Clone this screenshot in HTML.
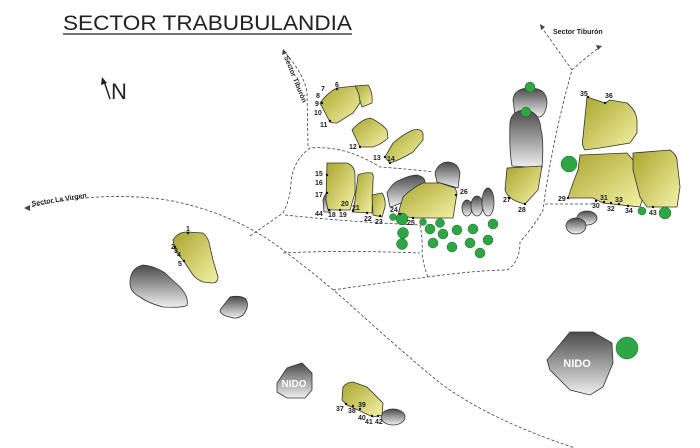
<!DOCTYPE html>
<html><head><meta charset="utf-8"><style>
html,body{margin:0;padding:0;background:#fff;}
svg{display:block;}
.n{font-family:"Liberation Sans",sans-serif;font-size:7px;font-weight:bold;fill:#222;}
.p{fill:none;stroke:#444;stroke-width:0.8;stroke-dasharray:3 2;}
.y{fill:url(#gy);stroke:#333;stroke-width:0.8;}
.g{fill:url(#gg);stroke:#333;stroke-width:0.8;}
.t{fill:#2ea646;stroke:#1a6a2a;stroke-width:0.5;}
</style></head><body>
<svg width="700" height="448" viewBox="0 0 700 448" xmlns="http://www.w3.org/2000/svg">
<defs>
<linearGradient id="gy" x1="0" y1="0" x2="1" y2="1"><stop offset="0" stop-color="#a9a52e"/><stop offset="1" stop-color="#f4f2a6"/></linearGradient>
<linearGradient id="gg" x1="0" y1="0" x2="0" y2="1"><stop offset="0" stop-color="#4a4a4a"/><stop offset="1" stop-color="#f0f0f0"/></linearGradient>
</defs>
<rect width="700" height="448" fill="#fff"/>
<text x="63" y="30" font-family="Liberation Sans,sans-serif" font-size="21" fill="#222" textLength="289" lengthAdjust="spacingAndGlyphs">SECTOR TRABUBULANDIA</text>
<line x1="63" y1="34" x2="352" y2="34" stroke="#222" stroke-width="1.2"/>
<line x1="110" y1="99" x2="104" y2="81" stroke="#222" stroke-width="1.5"/>
<polygon points="102,77 101,85 107,83" fill="#222"/>
<text x="111" y="99" font-family="Liberation Sans,sans-serif" font-size="22" fill="#222">N</text>

<!-- paths -->
<path class="p" d="M27,208 Q100,190 167,200 Q233,212 283,250 Q320,278 345,300 Q400,350 440,383 Q490,420 575,448"/>
<path class="p" d="M250,236 Q270,222 283,213 Q290,200 291,183 Q293,160 310,148 Q345,145 380,167 Q420,170 433,172"/>
<path class="p" d="M283,50 Q305,75 307,93 L308,147"/>
<path class="p" d="M285,215 Q350,222 420,225 Q423,240 422,253 Q424,268 428,277"/>
<path class="p" d="M283,253 Q340,250 420,253"/>
<path class="p" d="M333,290 Q380,283 427,277 Q480,270 507,270 Q520,262 520,242 Q535,225 543,210 L545,195 Q555,130 572,70 L540,25"/>
<path class="p" d="M572,70 Q585,58 600,47"/>
<path class="p" d="M545,204 L593,204"/>
<polygon points="24,208 30,205 30,211" fill="#444"/>
<polygon points="540,24 545,27 541,30" fill="#444"/>
<polygon points="602,46 596,45 598,50" fill="#444"/>
<polygon points="283,49 282,55 287,53" fill="#444"/>
<text class="n" font-size="6" transform="translate(32,206) rotate(-9)">Sector La Virgen</text>
<text class="n" font-size="6" x="553" y="34">Sector Tiburón</text>
<text class="n" font-size="6" transform="translate(284,57) rotate(68)">Sector Tiburón</text>

<!-- left rocks -->
<path class="y" d="M173,240 Q178,232 187,232 L203,233 Q209,238 210,247 L213,260 L218,277 Q218,283 212,283 L203,282 Q196,279 193,275 L185,263 L175,250 Z"/>
<path class="g" d="M130,283 Q130,268 143,265 Q155,266 165,273 L180,287 Q189,297 187,305 Q185,308 163,307 Q148,303 140,297 Q130,292 130,283 Z"/>
<path class="g" d="M220,310 L230,297 Q240,295 246,299 Q250,307 243,315 Q236,320 230,317 Q220,315 220,310 Z"/>

<!-- top cluster -->
<path class="y" d="M355,86 L368,85 Q373,92 372,103 L362,107 Z"/>
<path class="y" d="M320,103 Q328,92 337,88 L355,86 Q360,94 360,103 L353,113 L337,123 Q331,123 330,122 Z"/>
<path class="y" d="M352,130 Q360,120 370,118 Q380,122 387,130 L388,138 Q382,144 373,147 L360,147 Z"/>
<path class="y" d="M385,157 L393,143 Q405,133 413,130 Q422,128 423,134 L423,140 L413,152 Q400,160 390,163 Z"/>
<path class="g" d="M323,200 Q326,190 330,195 L330,212 L324,212 Z"/>
<path class="y" d="M327,163 L347,163 Q355,166 355,175 L355,193 L350,210 L328,210 L326,200 Z"/>
<path class="y" d="M358,175 Q364,172 372,173 Q374,176 373,180 L372,213 L353,212 L355,200 Z"/>
<path class="y" d="M372,195 L382,193 Q386,199 385,207 L382,217 L373,215 Z"/>
<path class="g" d="M387,193 Q392,183 400,180 Q410,175 417,175 Q425,177 425,182 L422,190 L403,202 Q395,206 390,207 Z"/>
<path class="g" d="M435,173 Q438,163 447,162 Q458,162 460,173 L458,188 L437,182 Z"/>
<path class="y" d="M400,207 L403,197 Q412,188 423,183 L440,183 L455,188 L457,193 L453,218 L413,218 L398,215 Z"/>
<ellipse class="g" cx="467" cy="208" rx="5" ry="8"/>
<ellipse class="g" cx="477" cy="206" rx="6" ry="10"/>
<ellipse class="g" cx="488" cy="202" rx="6" ry="14"/>

<!-- column -->
<path class="g" d="M513,100 Q514,88 530,88 Q547,88 547,103 Q546,114 540,117 L515,115 Z"/>
<path class="g" d="M510,122 Q512,110 526,110 Q540,112 541,130 Q544,140 542,168 L512,166 Q509,150 510,122 Z"/>
<path class="y" d="M507,168 L542,166 L538,190 L525,204 Q508,200 505,190 Z"/>

<!-- right rocks -->
<path class="y" d="M587,97 L605,103 L610,100 L627,103 Q636,110 637,120 L637,133 L630,143 L600,148 L585,150 Q581,145 583,137 Z"/>
<path class="y" d="M580,155 L627,153 L633,160 L643,197 L640,207 L603,203 L593,198 L568,198 Q572,185 578,170 Z"/>
<path class="y" d="M633,153 L670,150 Q677,155 677,160 L680,187 L677,207 L647,207 L640,197 L633,170 Z"/>
<ellipse class="g" cx="587" cy="218" rx="10" ry="7"/>
<ellipse class="g" cx="576" cy="226" rx="10" ry="8"/>

<!-- nidos -->
<path class="g" d="M547,360 L570,332 L593,332 L612,343 L613,363 L603,387 L590,395 L570,390 L550,370 Z"/>
<text x="577" y="367" text-anchor="middle" font-family="Liberation Sans,sans-serif" font-weight="bold" font-size="11" fill="#fff">NIDO</text>
<path class="g" d="M277,383 L287,368 L302,363 L312,373 L312,390 L305,398 L287,398 L277,392 Z"/>
<text x="294" y="387" text-anchor="middle" font-family="Liberation Sans,sans-serif" font-weight="bold" font-size="10" fill="#fff">NIDO</text>
<ellipse class="g" cx="393" cy="417" rx="12" ry="8"/>
<path class="y" d="M342,400 L343,387 Q347,382 353,382 L367,387 L383,403 L382,415 L373,417 L358,410 L347,405 Z"/>

<!-- trees -->
<g class="t">
<circle cx="530" cy="87" r="5"/><circle cx="526" cy="112" r="5"/>
<circle cx="569" cy="164" r="8"/><circle cx="665" cy="213" r="6"/><circle cx="642" cy="211" r="4"/>
<circle cx="627" cy="348" r="11"/>
<circle cx="402" cy="219" r="6"/><circle cx="403" cy="233" r="5.5"/><circle cx="402" cy="244" r="5.5"/>
<circle cx="393" cy="217" r="3.5"/><circle cx="423" cy="222" r="3.5"/><circle cx="430" cy="229" r="5"/>
<circle cx="440" cy="223" r="4.5"/><circle cx="443" cy="234" r="5"/><circle cx="457" cy="230" r="5"/>
<circle cx="473" cy="229" r="5"/><circle cx="493" cy="224" r="5"/><circle cx="488" cy="240" r="5"/>
<circle cx="470" cy="243" r="5"/><circle cx="452" cy="247" r="5"/><circle cx="433" cy="243" r="5"/>
<circle cx="480" cy="253" r="5"/>
</g>

<!-- labels -->
<g class="n">
<text x="186" y="231">1</text><text x="171" y="249">2</text><text x="174" y="253">3</text><text x="177" y="257">4</text><text x="178" y="266">5</text>
<text x="335" y="87">6</text><text x="321" y="91">7</text><text x="316" y="98">8</text><text x="315" y="106">9</text><text x="314" y="115">10</text><text x="320" y="127">11</text>
<text x="349" y="149">12</text><text x="373" y="160">13</text><text x="387" y="161">14</text>
<text x="315" y="176">15</text><text x="315" y="185">16</text><text x="315" y="197">17</text>
<text x="315" y="216">44</text><text x="328" y="217">18</text><text x="339" y="217">19</text><text x="341" y="206">20</text><text x="352" y="210">21</text>
<text x="364" y="221">22</text><text x="375" y="224">23</text><text x="390" y="212">24</text><text x="407" y="225">25</text><text x="460" y="194">26</text>
<text x="503" y="202">27</text><text x="518" y="212">28</text>
<text x="580" y="96">35</text><text x="605" y="98">36</text>
<text x="558" y="201">29</text><text x="592" y="208">30</text><text x="600" y="200">31</text><text x="607" y="211">32</text><text x="615" y="202">33</text><text x="625" y="213">34</text><text x="649" y="215">43</text>
<text x="336" y="411">37</text><text x="348" y="413">38</text><text x="358" y="407">39</text><text x="358" y="420">40</text><text x="365" y="424">41</text><text x="375" y="424">42</text>
</g>
<g fill="#111">
<circle cx="188" cy="233" r="1.2"/><circle cx="175" cy="247" r="1.2"/><circle cx="184" cy="261" r="1.2"/>
<circle cx="337" cy="89" r="1.2"/><circle cx="322" cy="103" r="1.2"/><circle cx="330" cy="121" r="1.2"/><circle cx="360" cy="147" r="1.2"/>
<circle cx="385" cy="157" r="1.2"/><circle cx="390" cy="163" r="1.2"/><circle cx="327" cy="175" r="1.2"/><circle cx="327" cy="193" r="1.2"/>
<circle cx="329" cy="210" r="1.2"/><circle cx="340" cy="210" r="1.2"/><circle cx="353" cy="211" r="1.2"/><circle cx="367" cy="213" r="1.2"/><circle cx="380" cy="216" r="1.2"/>
<circle cx="400" cy="214" r="1.2"/><circle cx="413" cy="218" r="1.2"/><circle cx="456" cy="195" r="1.2"/>
<circle cx="509" cy="198" r="1.2"/><circle cx="525" cy="204" r="1.2"/><circle cx="588" cy="97" r="1.2"/><circle cx="605" cy="103" r="1.2"/>
<circle cx="568" cy="198" r="1.2"/><circle cx="596" cy="201" r="1.2"/><circle cx="604" cy="202" r="1.2"/><circle cx="611" cy="203" r="1.2"/><circle cx="619" cy="204" r="1.2"/><circle cx="628" cy="206" r="1.2"/><circle cx="653" cy="207" r="1.2"/>
<circle cx="346" cy="404" r="1.2"/><circle cx="353" cy="406" r="1.2"/><circle cx="360" cy="409" r="1.2"/><circle cx="372" cy="416" r="1.2"/><circle cx="378" cy="416" r="1.2"/>
</g>
</svg>
</body></html>
